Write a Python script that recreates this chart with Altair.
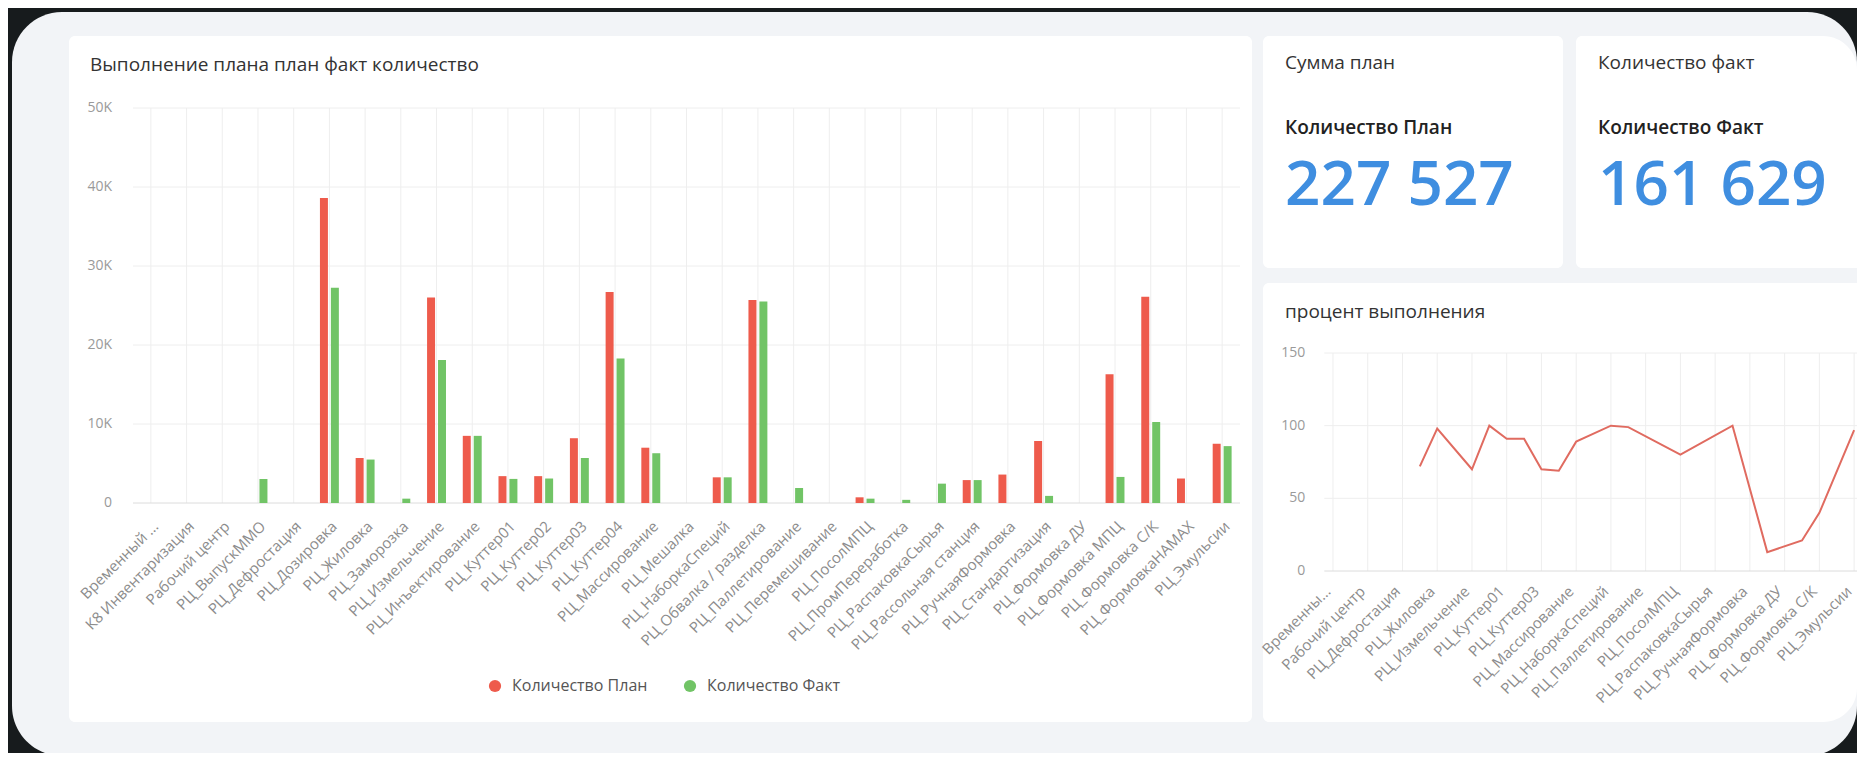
import altair as alt
import pandas as pd

# ---------------- data ----------------
categories = [
    "Временный ...", "К8 Инвентаризация", "Рабочий центр", "РЦ_ВыпускММО", "РЦ_Дефростация",
    "РЦ_Дозировка", "РЦ_Жиловка", "РЦ_Заморозка", "РЦ_Измельчение", "РЦ_Инъектирование",
    "РЦ_Куттер01", "РЦ_Куттер02", "РЦ_Куттер03", "РЦ_Куттер04", "РЦ_Массирование",
    "РЦ_Мешалка", "РЦ_НаборкаСпеций", "РЦ_Обвалка / разделка", "РЦ_Паллетирование", "РЦ_Перемешивание",
    "РЦ_ПосолМПЦ", "РЦ_ПромПереработка", "РЦ_РаспаковкаСырья", "РЦ_Рассольная станция", "РЦ_РучнаяФормовка",
    "РЦ_Стандартизация", "РЦ_Формовка ДУ", "РЦ_Формовка МПЦ", "РЦ_Формовка С/К", "РЦ_ФормовкаНАМАХ",
    "РЦ_Эмульсии",
]
plan_values = [0, 0, 0, 0, 0, 38600, 5700, 0, 26000, 8500,
               3400, 3400, 8200, 26700, 7000, 0, 3250, 25700, 0, 0,
               720, 0, 0, 2900, 3600, 7850, 0, 16300, 26100, 3100,
               7500]
fact_values = [0, 0, 0, 3050, 0, 27250, 5500, 550, 18100, 8500,
               3050, 3100, 5700, 18300, 6300, 0, 3250, 25500, 1900, 0,
               550, 400, 2450, 2900, 0, 900, 0, 3300, 10250, 0,
               7200]
percent_values = [None, None, None, None, None, 72, 98, None, 70, 100,
                  91, 91, 70, 69, 89, None, 100, 99, None, None,
                  80, None, None, 100, None, 13, None, 21, 40, None,
                  97]
series_names = ["Количество План", "Количество Факт"]
series_colors = ["#ee5b4c", "#71c466"]
bar_y_ticks = [0, 10000, 20000, 30000, 40000, 50000]
bar_y_labels = ["0", "10K", "20K", "30K", "40K", "50K"]
line_y_ticks = [0, 50, 100, 150]
line_y_labels = ["0", "50", "100", "150"]
line_x_ticks = categories[::2]
line_x_labels = ["Временны..."] + categories[2::2]

bar_title = "Выполнение плана план факт количество"
line_title = "процент выполнения"
kpi_plan_caption = "Сумма план"
kpi_plan_label = "Количество План"
kpi_plan_value = "227 527"
kpi_fact_caption = "Количество факт"
kpi_fact_label = "Количество Факт"
kpi_fact_value = "161 629"

FONT = "Open Sans"
W, H = 1849, 745
GRID = "#eeeeee"
BASE = "#dcdcdc"
TICK_COLOR = "#8c8c8c"

bar_df = pd.DataFrame({
    "category": categories + categories,
    "series": [series_names[0]] * len(categories) + [series_names[1]] * len(categories),
    "value": plan_values + fact_values,
})
line_df = pd.DataFrame({"category": categories, "pct": percent_values,
                        "idx": list(range(len(categories)))})
bar_ticks_df = pd.DataFrame({"tick": bar_y_ticks, "lab": bar_y_labels})
line_ticks_df = pd.DataFrame({"tick": line_y_ticks, "lab": line_y_labels})
line_xt_df = pd.DataFrame({"category": line_x_ticks, "lab": line_x_labels})
cat_df = pd.DataFrame({"category": categories})


# ---------------- helpers (layout) ----------------
def box(x1, x2, y1, y2, color, **kw):
    return alt.Chart(alt.Data(values=[{}])).mark_rect(color=color, **kw).encode(
        x=alt.value(x1), x2=alt.value(x2), y=alt.value(y1), y2=alt.value(y2))


def label(text, x, y, size, color="#333333", weight="normal", baseline="middle"):
    return alt.Chart(pd.DataFrame({"t": [text]})).mark_text(
        align="left", baseline=baseline, font=FONT, fontSize=size,
        fontWeight=weight, color=color).encode(
        x=alt.value(x), y=alt.value(y), text="t:N")


def grid_color():
    return alt.condition("datum.tick == 0", alt.value(BASE), alt.value(GRID))


# ---------------- bar chart ----------------
BX0, BX1, BY0, BY1 = 125, 1232, 495, 100
bar_x_scale = alt.Scale(type="band", domain=categories, range=[BX0, BX1],
                        paddingInner=0.47, paddingOuter=0.235)
bar_y_scale = alt.Scale(domain=[0, 50000], range=[BY0, BY1], nice=False, zero=True)

bar_vgrid = alt.Chart(cat_df).mark_rule(color=GRID, strokeWidth=1).encode(
    x=alt.X("category:N", scale=bar_x_scale, axis=None),
    y=alt.value(BY1), y2=alt.value(BY0))
bar_hgrid = alt.Chart(bar_ticks_df).mark_rule(strokeWidth=1).encode(
    y=alt.Y("tick:Q", scale=bar_y_scale, axis=None),
    x=alt.value(BX0), x2=alt.value(BX1), color=grid_color())
bar_xlabels = alt.Chart(cat_df).mark_text(
    angle=315, align="right", baseline="top", font=FONT, fontSize=15,
    color=TICK_COLOR).encode(
    x=alt.X("category:N", scale=bar_x_scale, axis=None),
    y=alt.value(BY0 + 16), text="category:N")
bar_ylabels = alt.Chart(bar_ticks_df).mark_text(
    align="right", baseline="middle", font=FONT, fontSize=14, color="#9a9a9a").encode(
    y=alt.Y("tick:Q", scale=bar_y_scale, axis=None),
    x=alt.value(BX0 - 21), text="lab:N")
bars = alt.Chart(bar_df).mark_bar().encode(
    x=alt.X("category:N", scale=bar_x_scale, axis=None),
    xOffset=alt.XOffset("series:N", scale=alt.Scale(domain=series_names,
                                                    paddingInner=0.27, paddingOuter=0)),
    y=alt.Y("value:Q", scale=bar_y_scale, axis=None),
    color=alt.Color("series:N", scale=alt.Scale(domain=series_names, range=series_colors),
                    legend=alt.Legend(title=None, orient="none", legendX=479, legendY=670,
                                      direction="horizontal", symbolType="circle",
                                      symbolSize=150, symbolStrokeWidth=0,
                                      labelFontSize=16, labelColor="#555555", labelFont=FONT,
                                      labelOffset=9, columnPadding=34, padding=0)),
)
bar_group = alt.layer(bar_vgrid, bar_hgrid, bars, bar_xlabels, bar_ylabels)

# ---------------- line chart ----------------
LX0, LX1, LY0, LY1 = 1316.3, 1854.8, 563, 345
line_x_scale = alt.Scale(type="point", domain=categories, range=[LX0, LX1], padding=0.5)
line_y_scale = alt.Scale(domain=[0, 150], range=[LY0, LY1], nice=False, zero=True)

line_vgrid = alt.Chart(line_xt_df).mark_rule(color=GRID, strokeWidth=1).encode(
    x=alt.X("category:N", scale=line_x_scale, axis=None),
    y=alt.value(LY1), y2=alt.value(LY0))
line_hgrid = alt.Chart(line_ticks_df).mark_rule(strokeWidth=1).encode(
    y=alt.Y("tick:Q", scale=line_y_scale, axis=None),
    x=alt.value(LX0), x2=alt.value(LX1), color=grid_color())
line_xlabels = alt.Chart(line_xt_df).mark_text(
    angle=315, align="right", baseline="middle", font=FONT, fontSize=15,
    color=TICK_COLOR, dx=-7).encode(
    x=alt.X("category:N", scale=line_x_scale, axis=None),
    y=alt.value(LY0 + 13), text="lab:N")
line_ylabels = alt.Chart(line_ticks_df).mark_text(
    align="right", baseline="middle", font=FONT, fontSize=14, color="#9a9a9a").encode(
    y=alt.Y("tick:Q", scale=line_y_scale, axis=None),
    x=alt.value(LX0 - 19), text="lab:N")
line = alt.Chart(line_df).transform_filter("isValid(datum.pct)").mark_line(
    color="#e06b60", strokeWidth=2).encode(
    x=alt.X("category:N", scale=line_x_scale, axis=None),
    y=alt.Y("pct:Q", scale=line_y_scale, axis=None),
    order=alt.Order("idx:Q"),
)
line_group = alt.layer(line_vgrid, line_hgrid, line, line_xlabels, line_ylabels)

# ---------------- dashboard frame ----------------
panel = box(4, 1849, 4, 748, "#f2f4f7", cornerRadius=50)
card_bar = box(61, 1244, 28, 714, "#ffffff", cornerRadius=6)
card_kpi1 = box(1255, 1555, 28, 260, "#ffffff", cornerRadius=6)
card_kpi2 = box(1568, 1849, 28, 260, "#ffffff", cornerRadiusTopLeft=6,
                cornerRadiusBottomLeft=6, cornerRadiusTopRight=34)
card_line = box(1255, 1849, 275, 714, "#ffffff", cornerRadiusTopLeft=6,
                cornerRadiusBottomLeft=6, cornerRadiusBottomRight=34)

texts = [
    label(bar_title, 82, 57, 19, "#333333"),
    label(kpi_plan_caption, 1277, 55, 19, "#333333"),
    label(kpi_plan_label, 1277, 120, 19, "#222222", weight=600),
    label(kpi_plan_value, 1277, 197, 62, "#3f8ee0", weight=600, baseline="alphabetic"),
    label(kpi_fact_caption, 1590, 55, 19, "#333333"),
    label(kpi_fact_label, 1590, 120, 19, "#222222", weight=600),
    label(kpi_fact_value, 1590, 197, 62, "#3f8ee0", weight=600, baseline="alphabetic"),
    label(line_title, 1277, 304, 19, "#333333"),
]

chart = alt.layer(
    panel, card_bar, card_kpi1, card_kpi2, card_line,
    bar_group, line_group, *texts,
).resolve_scale(
    x="independent", y="independent", color="independent"
).properties(
    width=W, height=H, background="#171b1d", padding=0,
    autosize=alt.AutoSizeParams(type="none"),
).configure_view(stroke=None)

chart.save("out.html", embed_options={"renderer": "svg", "actions": False})
